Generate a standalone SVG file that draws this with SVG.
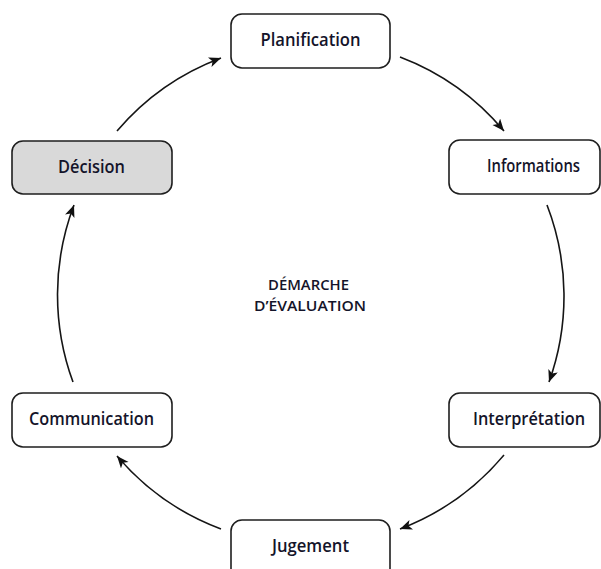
<svg xmlns="http://www.w3.org/2000/svg" width="601" height="569" viewBox="0 0 601 569">
  <defs>
    <marker id="ah" markerUnits="userSpaceOnUse" markerWidth="14" markerHeight="12" refX="12" refY="5" orient="auto">
      <path d="M0,0 L12,5 L0,10 L3,5 Z" fill="#111"/>
    </marker>
    <style>
      .box { fill: #ffffff; stroke: #1e1e1e; stroke-width: 1.6; }
      .box.hl { fill: #d9d9d9; }
      .lbl { font-family: "Open Sans", "DejaVu Sans", sans-serif; font-size: 18px; font-weight: 600; fill: #14142a; text-anchor: middle; }
      .ctr { font-family: "Open Sans", "DejaVu Sans", sans-serif; font-size: 15px; font-weight: 600; fill: #14142a; text-anchor: middle; }
      .arc { fill: none; stroke: #151515; stroke-width: 1.6; marker-end: url(#ah); }
    </style>
  </defs>
  <rect width="601" height="569" fill="#ffffff"/>

  <g id="connectors">
    <path class="arc" d="M117,131 A253,253 0 0 1 221,58"/>
    <path class="arc" d="M400,57 A253,253 0 0 1 504,131"/>
    <path class="arc" d="M547,205 A253,253 0 0 1 549,382"/>
    <path class="arc" d="M504,455 A253,253 0 0 1 400,529"/>
    <path class="arc" d="M221,529 A253,253 0 0 1 117,456"/>
    <path class="arc" d="M73,382 A253,253 0 0 1 74,205"/>
  </g>

  <g id="planification">
    <rect class="box" x="231" y="14" width="159" height="54" rx="11"/>
    <text class="lbl" x="310.5" y="46" textLength="100" lengthAdjust="spacingAndGlyphs">Planification</text>
  </g>
  <g id="informations">
    <rect class="box" x="449" y="140" width="151" height="54" rx="11"/>
    <text class="lbl" x="533.5" y="172" textLength="93" lengthAdjust="spacingAndGlyphs">Informations</text>
  </g>
  <g id="interpretation">
    <rect class="box" x="449" y="393" width="151" height="54" rx="11"/>
    <text class="lbl" x="529" y="425" textLength="112" lengthAdjust="spacingAndGlyphs">Interprétation</text>
  </g>
  <g id="jugement">
    <rect class="box" x="231" y="520" width="159" height="60" rx="11"/>
    <text class="lbl" x="310.5" y="552" textLength="77" lengthAdjust="spacingAndGlyphs">Jugement</text>
  </g>
  <g id="communication">
    <rect class="box" x="12" y="393" width="160" height="54" rx="11"/>
    <text class="lbl" x="91.5" y="425" textLength="125" lengthAdjust="spacingAndGlyphs">Communication</text>
  </g>
  <g id="decision">
    <rect class="box hl" x="12" y="141" width="160" height="53" rx="11"/>
    <text class="lbl" x="91.5" y="172.5" textLength="67" lengthAdjust="spacingAndGlyphs">Décision</text>
  </g>

  <g id="center-title">
    <text class="ctr" x="308.5" y="290" textLength="81" lengthAdjust="spacingAndGlyphs">DÉMARCHE</text>
    <text class="ctr" x="310" y="311" textLength="112" lengthAdjust="spacingAndGlyphs">D’ÉVALUATION</text>
  </g>
</svg>
